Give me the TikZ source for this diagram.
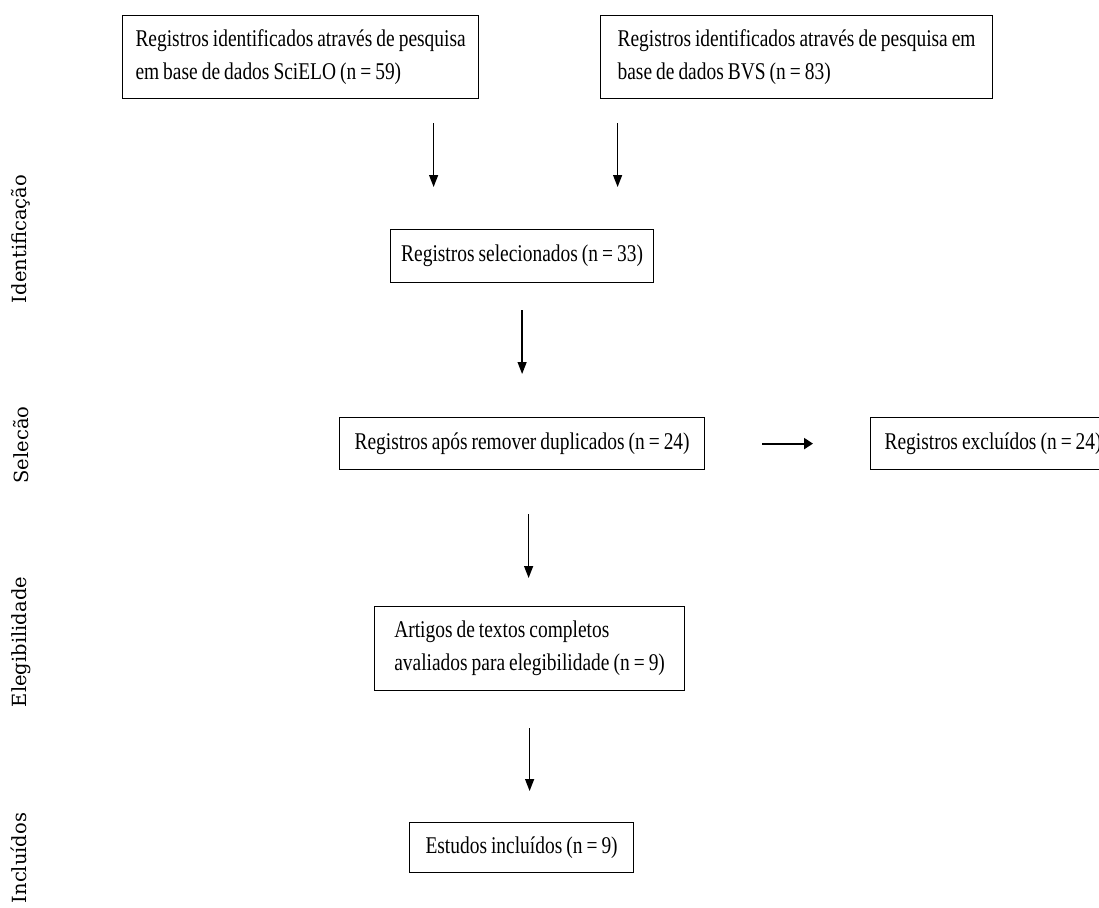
\documentclass[tikz,border=0pt]{standalone}
\usepackage{fontspec}
\setmainfont{Liberation Serif}
\newfontfamily\condfont[FakeStretch=0.81]{Liberation Serif}
\newfontfamily\phasefont{DejaVu Serif}
\newcommand\boxtext{\condfont\fontsize{24}{33}\selectfont\spaceskip=4pt plus 1pt minus 1pt\relax}
\usetikzlibrary{arrows.meta}
\begin{document}
\begin{tikzpicture}%
[x=1pt,y=-1pt,%
box/.style={draw, line width=1.2pt, anchor=north west, inner xsep=10pt, inner ysep=0pt,%
  align=left, font=\boxtext},%
single/.style={align=center},%
phase/.style={rotate=90, anchor=base, font=\phasefont\fontsize{19.5}{19.5}\selectfont},%
arr/.style={-{Triangle[length=12pt,width=9pt]}, line width=1.3pt},%
sidearr/.style={-{Triangle[length=9pt,width=11pt]}, line width=2.2pt}]
\useasboundingbox (0,0) rectangle (1099,907);
% fases
\node[phase] (ident) at (27,239) {Identificação};
\node[phase] (selec) at (28,445) {Selecão};
\node[phase] (elegi) at (27,642) {Elegibilidade};
\node[phase] (inclu) at (27,858) {Incluídos};
% caixas
\node[box, minimum width=356pt, minimum height=83pt] (scielo) at (122,15)
  {Registros identificados através de pesquisa\\em base de dados SciELO (n = 59)};
\node[box, minimum width=392pt, minimum height=83pt] (bvs) at (600,15)
  {Registros identificados através de pesquisa em\\base de dados BVS (n = 83)};
\node[box, single, minimum width=263pt, minimum height=53pt] (sel) at (390,229)
  {Registros selecionados (n = 33)};
\node[box, single, minimum width=365pt, minimum height=52pt] (dup) at (339,417)
  {Registros após remover duplicados (n = 24)};
\node[box, single, minimum width=245pt, minimum height=52pt] (excl) at (870,417)
  {Registros excluídos (n = 24)};
\node[box, minimum width=310pt, minimum height=84pt] (art) at (374,606)
  {Artigos de textos completos\\avaliados para elegibilidade (n = 9)};
\node[box, single, minimum width=224pt, minimum height=50pt] (est) at (409,822)
  {Estudos incluídos (n = 9)};
% setas
\draw[arr, shorten <=24pt, shorten >=42pt] ([xshift=133pt]scielo.south) -- ([xshift=-88.5pt]sel.north);
\draw[arr, shorten <=24pt, shorten >=42pt] ([xshift=-179pt]bvs.south) -- ([xshift=95.5pt]sel.north);
\draw[arr, shorten <=27pt, shorten >=43pt] (sel.south) -- (dup.north);
\draw[sidearr, shorten <=57pt, shorten >=57pt] (dup.east) -- (excl.west);
\draw[arr, shorten <=44pt, shorten >=28pt] ([xshift=6.5pt]dup.south) -- ([xshift=-1pt]art.north);
\draw[arr, shorten <=37pt, shorten >=31pt] (art.south) -- ([xshift=8pt]est.north);
\end{tikzpicture}
\end{document}
